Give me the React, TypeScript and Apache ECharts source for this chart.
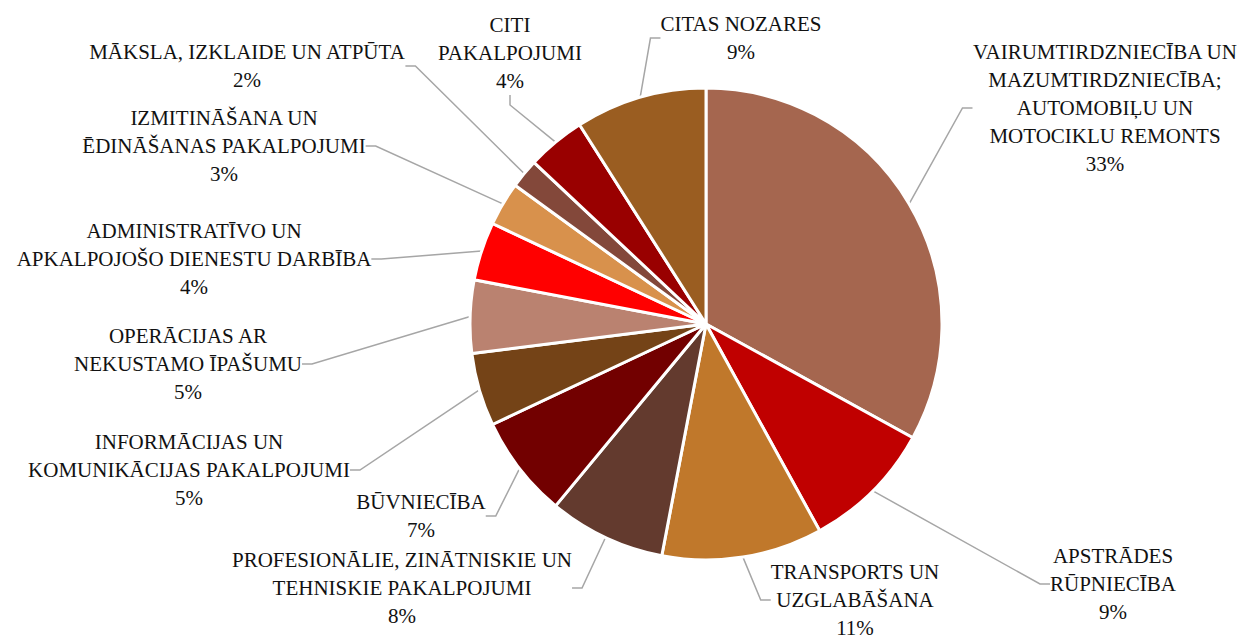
import React, { useEffect, useRef } from "react";
import * as echarts from "echarts";

const categories: string[] = [
  "VAIRUMTIRDZNIECĪBA UN\nMAZUMTIRDZNIECĪBA;\nAUTOMOBIĻU UN\nMOTOCIKLU REMONTS",
  "APSTRĀDES\nRŪPNIECĪBA",
  "TRANSPORTS UN\nUZGLABĀŠANA",
  "PROFESIONĀLIE, ZINĀTNISKIE UN\nTEHNISKIE PAKALPOJUMI",
  "BŪVNIECĪBA",
  "INFORMĀCIJAS UN\nKOMUNIKĀCIJAS PAKALPOJUMI",
  "OPERĀCIJAS AR\nNEKUSTAMO ĪPAŠUMU",
  "ADMINISTRATĪVO UN\nAPKALPOJOŠO DIENESTU DARBĪBA",
  "IZMITINĀŠANA UN\nĒDINĀŠANAS PAKALPOJUMI",
  "MĀKSLA, IZKLAIDE UN ATPŪTA",
  "CITI\nPAKALPOJUMI",
  "CITAS NOZARES",
];

const shares: number[] = [33, 9, 11, 8, 7, 5, 5, 4, 3, 2, 4, 9];

const colors: string[] = [
  "#A5664F",
  "#C00000",
  "#C0782B",
  "#633A2E",
  "#720000",
  "#744317",
  "#BA8270",
  "#FF0000",
  "#D8914C",
  "#83483A",
  "#990000",
  "#9A5D21",
];

// label block centres (layout only)
const labelPos: [number, number][] = [
  [1105, 108],
  [1113, 584],
  [855, 600],
  [402, 588],
  [421, 516],
  [189, 470],
  [188, 364],
  [194, 259],
  [224, 146],
  [247, 66],
  [510, 53],
  [741, 38],
];

export default function App() {
  const ref = useRef<HTMLDivElement>(null);
  useEffect(() => {
    if (!ref.current) return;
    const chart = echarts.init(ref.current, undefined, { renderer: "svg" });
    chart.setOption({
      animation: false,
      backgroundColor: "#ffffff",
      series: [
        {
          type: "pie",
          center: [706, 324],
          radius: 236,
          startAngle: 90,
          clockwise: true,
          avoidLabelOverlap: false,
          data: categories.map((n, i) => ({
            name: n,
            value: shares[i],
            itemStyle: { color: colors[i] },
          })),
          itemStyle: { borderColor: "#ffffff", borderWidth: 3 },
          label: {
            show: true,
            formatter: (p: any) => `${p.name}\n${p.value}%`,
            fontFamily: "Liberation Serif",
            fontSize: 21,
            lineHeight: 28,
            color: "#111111",
            align: "center",
          },
          labelLine: {
            show: true,
            length: 12,
            length2: 10,
            lineStyle: { color: "#A6A6A6", width: 1.5 },
          },
          labelLayout: (params: any) => {
            const p = labelPos[params.dataIndex];
            return {
              x: p[0],
              y: p[1],
              align: "center",
              verticalAlign: "middle",
            };
          },
        },
      ],
    });
    return () => chart.dispose();
  }, []);
  return (
    <div
      ref={ref}
      style={{ position: "fixed", left: 0, top: 0, width: 1246, height: 640 }}
    />
  );
}
